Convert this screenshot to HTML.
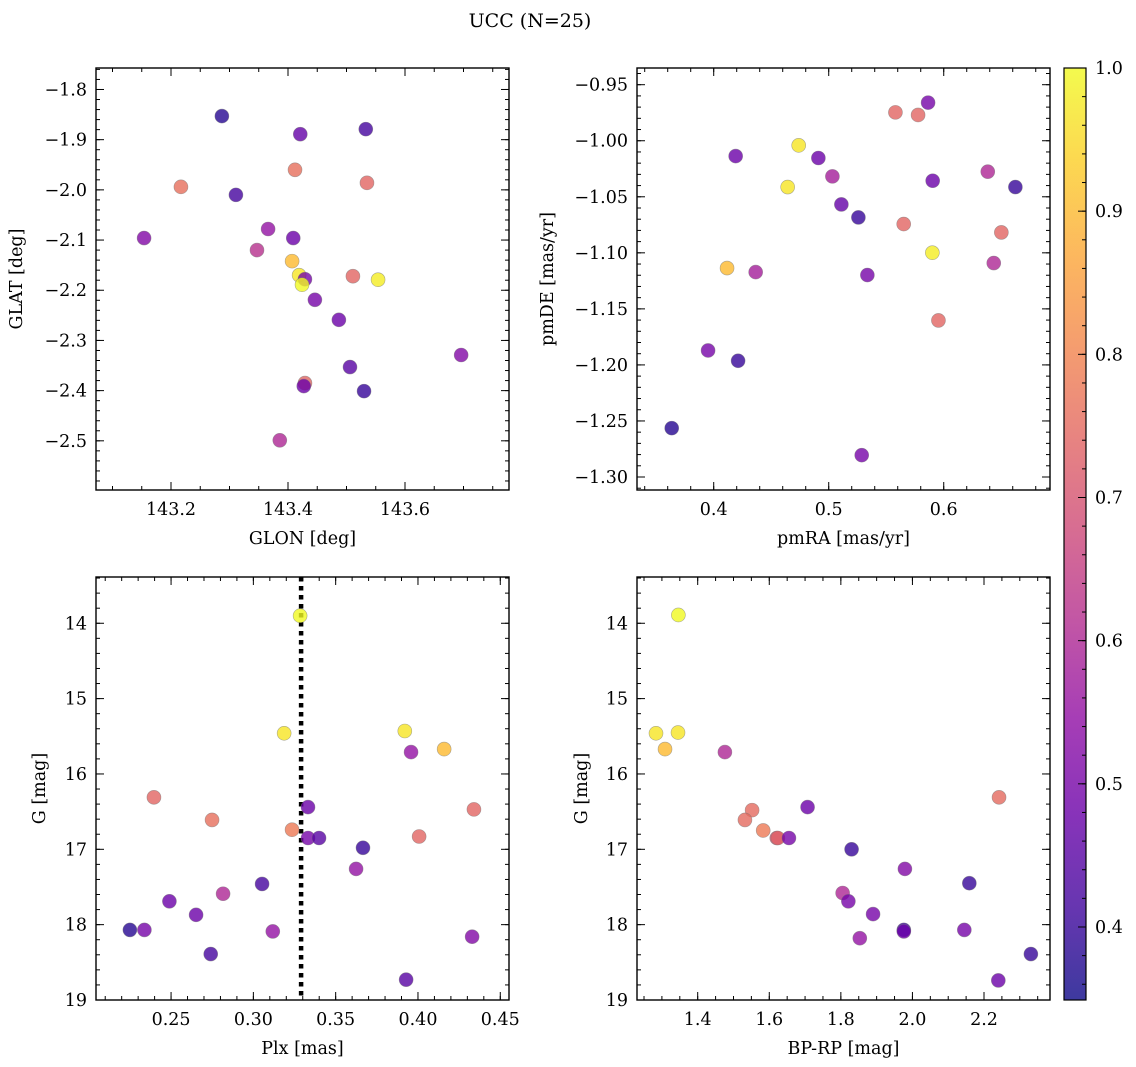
<!DOCTYPE html>
<html><head><meta charset="utf-8">
<style>
html,body{margin:0;padding:0;background:#fff;}
svg{display:block;font-family:"DejaVu Serif","Liberation Serif",serif;}
</style></head>
<body>
<svg id="fig" width="1136" height="1067" viewBox="0 0 1136 1067" xmlns="http://www.w3.org/2000/svg">
<text x="530" y="27" font-size="19" text-anchor="middle">UCC (N=25)</text>
</svg>
<script>
// ---- data ----
const glonVals = [143.287,143.421,143.533,143.217,143.311,143.412,143.535,143.154,143.366,143.347,143.409,143.407,143.419,143.429,143.424,143.511,143.554,143.446,143.487,143.696,143.506,143.429,143.427,143.530,143.386];
const glatVals = [-1.853,-1.889,-1.879,-1.994,-2.010,-1.960,-1.986,-2.096,-2.078,-2.120,-2.096,-2.142,-2.170,-2.178,-2.189,-2.172,-2.179,-2.219,-2.259,-2.329,-2.353,-2.385,-2.391,-2.401,-2.499];
const glProb = [0.38,0.47,0.42,0.76,0.42,0.76,0.74,0.52,0.55,0.62,0.48,0.9,0.97,0.5,1.0,0.74,0.98,0.5,0.48,0.52,0.45,0.74,0.48,0.4,0.6];
const pmraVals = [0.558,0.5777,0.5864,0.4739,0.4191,0.491,0.5032,0.4643,0.5904,0.6383,0.6623,0.511,0.5258,0.5652,0.6501,0.4116,0.4365,0.5901,0.6435,0.5336,0.5954,0.3951,0.4212,0.3635,0.5287];
const pmdeVals = [-0.9747,-0.977,-0.966,-1.0041,-1.0137,-1.0154,-1.0318,-1.0413,-1.0357,-1.0276,-1.0413,-1.0568,-1.0684,-1.0743,-1.0818,-1.1136,-1.1172,-1.0999,-1.1091,-1.1198,-1.1603,-1.1871,-1.1963,-1.2564,-1.2805];
const pmProb = [0.74,0.74,0.5,0.97,0.48,0.48,0.58,0.97,0.48,0.6,0.4,0.47,0.4,0.74,0.74,0.9,0.58,0.98,0.6,0.5,0.74,0.5,0.4,0.38,0.5];
const plxVals = [0.225,0.2338,0.249,0.2652,0.2816,0.2741,0.3053,0.3118,0.2396,0.2749,0.3284,0.3187,0.392,0.3958,0.4159,0.434,0.3332,0.3235,0.3332,0.3399,0.4007,0.3666,0.3624,0.4329,0.3928];
const plxG = [18.07,18.07,17.69,17.87,17.59,18.39,17.46,18.09,16.31,16.61,13.9,15.46,15.43,15.71,15.67,16.47,16.44,16.74,16.85,16.85,16.83,16.98,17.26,18.16,18.73];
const plxProb = [0.38,0.5,0.48,0.48,0.6,0.42,0.42,0.55,0.74,0.76,1.0,0.97,0.97,0.55,0.9,0.74,0.48,0.78,0.5,0.45,0.74,0.4,0.55,0.52,0.45];
const bprpVals = [1.346,1.2835,1.345,1.3087,1.476,1.552,1.532,1.583,1.621,1.624,1.655,1.707,1.830,1.805,1.821,1.853,1.890,1.979,1.976,1.976,2.159,2.145,2.242,2.331,2.240];
const cmdG = [13.89,15.46,15.45,15.67,15.71,16.48,16.61,16.75,16.85,16.85,16.85,16.44,17.0,17.58,17.69,18.18,17.86,17.26,18.07,18.09,17.45,18.07,16.31,18.39,18.74];
const cmdProb = [1.0,0.97,0.97,0.9,0.6,0.75,0.75,0.78,0.7,0.73,0.5,0.48,0.4,0.6,0.5,0.55,0.5,0.52,0.4,0.48,0.4,0.5,0.75,0.4,0.48];
const plxLine = [0.329];
const cbarTicks = [0.4,0.5,0.6,0.7,0.8,0.9,1.0];
const VMIN = 0.349, VMAX = 1.0;

const NS = "http://www.w3.org/2000/svg";
const svg = document.getElementById('fig');
function mk(tag, attrs, parent){
  const e = document.createElementNS(NS, tag);
  for (const k in attrs) e.setAttribute(k, attrs[k]);
  (parent||svg).appendChild(e); return e;
}
const stops = [[0,'#0d0887'],[0.1,'#41049d'],[0.2,'#6a00a8'],[0.3,'#8f0da4'],[0.4,'#b12a90'],[0.5,'#cc4778'],[0.6,'#e16462'],[0.7,'#f2844b'],[0.8,'#fca636'],[0.9,'#fcce25'],[1,'#f0f921']];
function hex(h){return [1,3,5].map(i=>parseInt(h.substr(i,2),16));}
function plasma(v){
  let t=(v-VMIN)/(VMAX-VMIN); t=Math.max(0,Math.min(1,t));
  for(let i=0;i<stops.length-1;i++){
    if(t<=stops[i+1][0]){
      const f=(t-stops[i][0])/(stops[i+1][0]-stops[i][0]);
      const a=hex(stops[i][1]), b=hex(stops[i+1][1]);
      return 'rgb('+a.map((c,j)=>Math.round(c+(b[j]-c)*f)).join(',')+')';
    }
  }
  return stops[stops.length-1][1];
}
function fmt(v,d){const s=v.toFixed(d);return s.replace('-','\u2212');}
const FS = 17.5;

function panel(cfg){
  const g = mk('g',{});
  
  
  const {x0,x1,y0,y1,xd,yd} = cfg;
  const sx = v => x0 + (v-xd[0])/(xd[1]-xd[0])*(x1-x0);
  const sy = v => y0 + (v-yd[0])/(yd[1]-yd[0])*(y1-y0);
  function ticks(dom, step){
    const lo=Math.min(dom[0],dom[1]), hi=Math.max(dom[0],dom[1]); const out=[];
    for(let k=Math.ceil(lo/step-1e-6);k*step<=hi+1e-9;k++) out.push(+(k*step).toFixed(6));
    return out;
  }
  const tg = mk('g',{stroke:'#000','stroke-width':1},g);
  
  
  ticks(xd,cfg.xminor).forEach(v=>{const x=sx(v);mk('line',{x1:x,x2:x,y1:y1,y2:y1-4},tg);mk('line',{x1:x,x2:x,y1:y0,y2:y0+4},tg);});
  ticks(yd,cfg.yminor).forEach(v=>{const y=sy(v);mk('line',{x1:x0,x2:x0+4,y1:y,y2:y},tg);mk('line',{x1:x1,x2:x1-4,y1:y,y2:y},tg);});
  ticks(xd,cfg.xmajor).forEach(v=>{const x=sx(v);mk('line',{x1:x,x2:x,y1:y1,y2:y1-8},tg);mk('line',{x1:x,x2:x,y1:y0,y2:y0+8},tg);
    const t=mk('text',{x:x,y:y1+25,'font-size':FS,'text-anchor':'middle'},g);t.textContent=fmt(v,cfg.xdec);
    });
  ticks(yd,cfg.ymajor).forEach(v=>{const y=sy(v);mk('line',{x1:x0,x2:x0+8,y1:y,y2:y},tg);mk('line',{x1:x1,x2:x1-8,y1:y,y2:y},tg);
    const t=mk('text',{x:x0-9,y:y+6,'font-size':FS,'text-anchor':'end'},g);t.textContent=fmt(v,cfg.ydec);
    });
  const fr = mk('rect',{x:x0,y:y0,width:x1-x0,height:y1-y0,fill:'none',stroke:'#000','stroke-width':1.4},g);
  
  
  const xl=mk('text',{x:(x0+x1)/2,y:y1+54,'font-size':FS,'text-anchor':'middle'},g);xl.textContent=cfg.xlabel;
  
  const yl=mk('text',{x:cfg.ylx,y:(y0+y1)/2,'font-size':FS,'text-anchor':'middle',transform:'rotate(-90 '+cfg.ylx+' '+((y0+y1)/2)+')'},g);yl.textContent=cfg.ylabel;
  
  if(cfg.vline){cfg.vline.forEach(v=>{const l=mk('line',{x1:sx(v),x2:sx(v),y1:y0,y2:y1,stroke:'#000','stroke-width':4.5,'stroke-dasharray':'4.5,4.5'},g);
    });}
  cfg.xs.forEach((v,i)=>{
    const c=mk('circle',{cx:sx(v),cy:sy(cfg.ys[i]),r:7,fill:plasma(cfg.c[i]),'fill-opacity':0.8,stroke:'#777','stroke-opacity':0.6,'stroke-width':0.6},g);
    
    
  });
}

panel({name:'glon-glat-panel',x0:96,x1:509,y0:68,y1:490,xd:[143.0718,143.7778],yd:[-1.7572,-2.598],
  xmajor:0.2,xminor:0.05,ymajor:0.1,yminor:0.02,xdec:1,ydec:1,xlabel:'GLON [deg]',ylabel:'GLAT [deg]',ylx:22,
  xs:glonVals,ys:glatVals,c:glProb});
panel({name:'pm-panel',x0:637,x1:1050,y0:68,y1:490,xd:[0.3333,0.6924],yd:[-0.9351,-1.3116],
  xmajor:0.1,xminor:0.02,ymajor:0.05,yminor:0.01,xdec:1,ydec:2,xlabel:'pmRA [mas/yr]',ylabel:'pmDE [mas/yr]',ylx:553,
  xs:pmraVals,ys:pmdeVals,c:pmProb});
panel({name:'plx-g-panel',x0:96,x1:509,y0:577,y1:1000,xd:[0.2044,0.4553],yd:[13.386,19],
  xmajor:0.05,xminor:0.01,ymajor:1,yminor:0.2,xdec:2,ydec:0,xlabel:'Plx [mas]',ylabel:'G [mag]',ylx:45,vline:plxLine,
  xs:plxVals,ys:plxG,c:plxProb});
panel({name:'cmd-panel',x0:637,x1:1050,y0:577,y1:1000,xd:[1.2304,2.3844],yd:[13.386,19],
  xmajor:0.2,xminor:0.05,ymajor:1,yminor:0.2,xdec:1,ydec:0,xlabel:'BP-RP [mag]',ylabel:'G [mag]',ylx:587,
  xs:bprpVals,ys:cmdG,c:cmdProb});

// colorbar
const cb = mk('g',{});


const defs = mk('defs',{},cb);
const lg = mk('linearGradient',{id:'plasmaGrad',x1:0,y1:1,x2:0,y2:0},defs);
stops.forEach(s=>mk('stop',{offset:s[0],'stop-color':s[1]},lg));
const cbx0=1064,cbx1=1086,cby0=68,cby1=1000;
const cy = v => cby0 + (VMAX-v)/(VMAX-VMIN)*(cby1-cby0);
mk('rect',{x:cbx0,y:cby0,width:cbx1-cbx0,height:cby1-cby0,fill:'url(#plasmaGrad)','fill-opacity':0.8},cb);
mk('rect',{x:cbx0,y:cby0,width:cbx1-cbx0,height:cby1-cby0,fill:'none',stroke:'#000','stroke-width':1.2},cb);
for(let k=18;k<=50;k++){const v=k*0.02;if(v<VMIN||v>VMAX+1e-9)continue;const y=cy(v);
  mk('line',{x1:cbx1,x2:cbx1-4,y1:y,y2:y,stroke:'#000','stroke-width':1},cb);}
cbarTicks.forEach(v=>{const y=cy(v);
  mk('line',{x1:cbx1,x2:cbx1-8,y1:y,y2:y,stroke:'#000','stroke-width':1},cb);
  const t=mk('text',{x:cbx1+9,y:y+6,'font-size':FS},cb);t.textContent=v.toFixed(1);
  
  
});
</script>
</body></html>
